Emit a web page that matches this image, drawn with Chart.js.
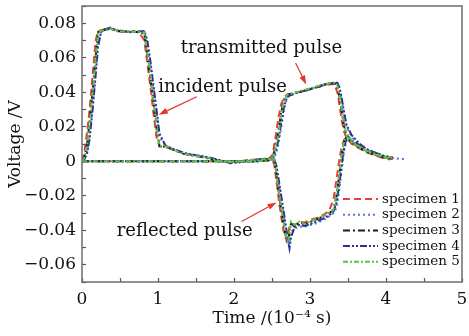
<!DOCTYPE html>
<html>
<head>
<meta charset="utf-8">
<script src="https://cdn.jsdelivr.net/npm/chart.js@4.4.1/dist/chart.umd.min.js"></script>
<style>
  body { margin: 0; background: #fff; }
</style>
</head>
<body>
<canvas id="pulseChart" width="469" height="336"></canvas>
<script>
// time axis (10^-4 s) for the incident/reflected gauge signal
var incTime = [
  0, 0.03, 0.07, 0.1, 0.14, 0.18, 0.21, 0.25, 0.3, 0.37,
  0.45, 0.55, 0.65, 0.75, 0.82, 0.86, 0.9, 0.94, 0.98, 1.02,
  1.1, 1.2, 1.33, 1.5, 1.65, 1.83, 1.95, 2.1, 2.25, 2.4,
  2.5, 2.53, 2.56, 2.6, 2.65, 2.69, 2.71, 2.73, 2.75, 2.8,
  2.86, 2.93, 3.0, 3.08, 3.16, 3.25, 3.31, 3.35, 3.39, 3.42,
  3.45, 3.48, 3.55, 3.65, 3.75, 3.85, 3.95, 4.05, 4.15, 4.25
];
var incS1 = [
  0, 0.005, 0.018, 0.03, 0.05, 0.07, 0.0755, 0.076, 0.0765, 0.0772,
  0.076, 0.0755, 0.0752, 0.0748, 0.07, 0.057, 0.043, 0.028, 0.014, 0.0085,
  0.0082, 0.007, 0.0045, 0.0032, 0.002, 0.0003, -0.0003, 0.0002, 0.0008, 0.0013,
  0.001, -0.002, -0.012, -0.026, -0.04, -0.046, -0.043, -0.038, -0.036, -0.037,
  -0.035, -0.0355, -0.034, -0.033, -0.0315, -0.029, -0.022, -0.01, 0.002, 0.009,
  0.0125, 0.0135, 0.01, 0.0075, 0.0052, 0.0035, 0.002, 0.001, null, null
];
var incS2 = [
  0, 0.001, 0.006, 0.015, 0.032, 0.052, 0.068, 0.075, 0.0762, 0.0768,
  0.0758, 0.0752, 0.0752, 0.0755, 0.0752, 0.068, 0.056, 0.042, 0.028, 0.014,
  0.0088, 0.007, 0.0048, 0.0033, 0.0022, 0.0002, -0.0008, -0.0002, 0.0006, 0.001,
  0.0016, 0.0014, -0.004, -0.016, -0.03, -0.042, -0.047, -0.048, -0.041, -0.039,
  -0.038, -0.038, -0.037, -0.036, -0.0345, -0.032, -0.03, -0.027, -0.015, -0.004,
  0.006, 0.012, 0.0115, 0.009, 0.0065, 0.0045, 0.003, 0.0022, 0.0016, 0.0012
];
var incS3 = [
  0, 0.002, 0.011, 0.023, 0.041, 0.061, 0.0748, 0.0755, 0.0762, 0.0768,
  0.0755, 0.075, 0.0752, 0.0748, 0.074, 0.061, 0.048, 0.034, 0.019, 0.0088,
  0.0084, 0.0067, 0.0044, 0.003, 0.0018, 0.0, -0.0006, 0.0, 0.0007, 0.0012,
  0.0014, 0.0008, -0.008, -0.022, -0.036, -0.045, -0.047, -0.041, -0.036, -0.038,
  -0.0355, -0.0365, -0.0352, -0.0338, -0.0322, -0.0302, -0.0282, -0.02, -0.006, 0.005,
  0.0115, 0.0142, 0.011, 0.0078, 0.0054, 0.0038, 0.0024, 0.0014, null, null
];
var incS4 = [
  0, 0.001, 0.005, 0.013, 0.03, 0.05, 0.066, 0.0748, 0.0765, 0.0775,
  0.076, 0.0752, 0.0748, 0.0752, 0.0755, 0.07, 0.058, 0.044, 0.03, 0.016,
  0.009, 0.0072, 0.005, 0.0035, 0.0025, 0.0005, -0.0012, -0.0005, 0.0006, 0.0014,
  0.0018, 0.0015, -0.003, -0.014, -0.028, -0.04, -0.046, -0.0505, -0.044, -0.038,
  -0.037, -0.0375, -0.0365, -0.035, -0.0335, -0.0315, -0.029, -0.024, -0.012, -0.001,
  0.008, 0.013, 0.012, 0.0095, 0.007, 0.005, 0.0035, 0.002, null, null
];
var incS5 = [
  0, 0.002, 0.01, 0.022, 0.04, 0.06, 0.075, 0.0755, 0.076, 0.077,
  0.0755, 0.0752, 0.075, 0.0752, 0.0745, 0.062, 0.05, 0.035, 0.02, 0.009,
  0.0085, 0.0068, 0.0045, 0.003, 0.002, 0.0, -0.0005, 0.0, 0.0008, 0.0012,
  0.0015, 0.001, -0.008, -0.021, -0.035, -0.044, -0.047, -0.042, -0.035, -0.037,
  -0.035, -0.0365, -0.035, -0.0335, -0.032, -0.03, -0.028, -0.019, -0.005, 0.006,
  0.012, 0.0145, 0.011, 0.008, 0.0055, 0.004, 0.0025, 0.0015, null, null
];

// time axis for the transmitted gauge signal
var trTime = [
  0, 0.5, 1, 1.5, 2, 2.3, 2.45, 2.51, 2.55, 2.58,
  2.62, 2.66, 2.7, 2.8, 2.9, 3.0, 3.1, 3.2, 3.27, 3.32,
  3.36, 3.39, 3.42, 3.45, 3.48, 3.55, 3.65, 3.75, 3.87, 3.97,
  4.09, 4.2
];
var trS1 = [
  0, 0, 0, 0, 0, 0, 0.0008, 0.004, 0.015, 0.024,
  0.033, 0.037, 0.0385, 0.0395, 0.0405, 0.0417, 0.043, 0.0442, 0.0447, 0.0448,
  0.04, 0.032, 0.023, 0.017, 0.0135, 0.0105, 0.0075, 0.005, 0.0032, 0.002,
  0.0012, null
];
var trS2 = [
  0, 0, 0, 0, 0, 0, 0.0003, 0.001, 0.004, 0.009,
  0.019, 0.03, 0.037, 0.0395, 0.0407, 0.042, 0.0433, 0.0447, 0.0453, 0.0455,
  0.0452, 0.042, 0.035, 0.027, 0.02, 0.014, 0.0095, 0.0065, 0.0045, 0.003,
  0.002, 0.0012
];
var trS3 = [
  0, 0, 0, 0, 0, 0, 0.0005, 0.002, 0.01, 0.016,
  0.028, 0.036, 0.0386, 0.0396, 0.0406, 0.0418, 0.043, 0.0443, 0.045, 0.0452,
  0.0435, 0.037, 0.028, 0.02, 0.0155, 0.0118, 0.0082, 0.0058, 0.0038, 0.0026,
  0.0018, null
];
var trS4 = [
  0, 0, 0, 0, 0, 0, 0.0004, 0.0015, 0.006, 0.011,
  0.022, 0.032, 0.0375, 0.0393, 0.0405, 0.0418, 0.0432, 0.0446, 0.0453, 0.0456,
  0.0455, 0.0425, 0.036, 0.028, 0.021, 0.015, 0.0102, 0.007, 0.0048, 0.0032,
  0.0022, null
];
var trS5 = [
  0, 0, 0, 0, 0, 0, 0.0005, 0.002, 0.009, 0.0145,
  0.027, 0.036, 0.0385, 0.0397, 0.041, 0.0422, 0.0435, 0.0448, 0.0452, 0.0453,
  0.044, 0.038, 0.029, 0.021, 0.016, 0.012, 0.0085, 0.006, 0.004, 0.0028,
  0.002, null
];

var specimenNames = ['specimen 1', 'specimen 2', 'specimen 3', 'specimen 4', 'specimen 5'];
var xTickLabels = ['0', '1', '2', '3', '4', '5'];

// callouts, in data units: text, x, y, and arrow from -> to
var noteTexts = ['transmitted pulse', 'incident pulse', 'reflected pulse'];
var notePos = [[2.36, 0.0655], [1.85, 0.0426], [1.35, -0.0406]];
var arrowPos = [[2.81, 0.057, 2.95, 0.0445], [1.51, 0.0374, 1.01, 0.027], [2.1, -0.0349, 2.56, -0.0239]];

var incSeries = [incS1, incS2, incS3, incS4, incS5];
var trSeries = [trS1, trS2, trS3, trS4, trS5];
var colors = ['#ee3b3b', '#5878e6', '#1a1a1a', '#2e3192', '#5cbf48'];
var dashes = [[7, 4], [2, 3], [7, 3, 2, 3], [7, 2, 2, 2, 2, 2], [5, 2, 2, 2]];

var FONT = "'DejaVu Serif', 'Liberation Serif', serif";
Chart.defaults.font.family = FONT;
Chart.defaults.color = '#111';

// one dataset per specimen: incident/reflected trace, a gap, then transmitted trace
var datasets = specimenNames.map(function (name, i) {
    var pts = incTime.map(function (t, k) { return { x: t, y: incSeries[i][k] }; });
    pts.push({ x: 0, y: null });
    trTime.forEach(function (t, k) { pts.push({ x: t, y: trSeries[i][k] }); });
    return {
        label: name,
        data: pts,
        borderColor: colors[i],
        borderDash: dashes[i],
        borderWidth: 2,
        pointRadius: 0,
        fill: false,
        tension: 0,
        spanGaps: false,
        order: 5 - i
    };
});

function arrow(ctx, x1, y1, x2, y2) {
    var a = Math.atan2(y2 - y1, x2 - x1);
    ctx.beginPath();
    ctx.moveTo(x1, y1);
    ctx.lineTo(x2 - 6 * Math.cos(a), y2 - 6 * Math.sin(a));
    ctx.stroke();
    ctx.beginPath();
    ctx.moveTo(x2, y2);
    ctx.lineTo(x2 - 9 * Math.cos(a) + 3 * Math.sin(a), y2 - 9 * Math.sin(a) - 3 * Math.cos(a));
    ctx.lineTo(x2 - 9 * Math.cos(a) - 3 * Math.sin(a), y2 - 9 * Math.sin(a) + 3 * Math.cos(a));
    ctx.closePath();
    ctx.fill();
}

var decorPlugin = {
    id: 'decor',
    afterDraw: function (chart) {
        var ctx = chart.ctx, area = chart.chartArea;
        var xs = chart.scales.x, ys = chart.scales.y;
        ctx.save();
        // frame
        ctx.strokeStyle = '#6e6e6e';
        ctx.lineWidth = 1.5;
        ctx.setLineDash([]);
        ctx.strokeRect(area.left, area.top, area.right - area.left, area.bottom - area.top);

        // callout texts and arrows
        ctx.fillStyle = '#111';
        ctx.font = '18px ' + FONT;
        ctx.textAlign = 'center';
        ctx.textBaseline = 'middle';
        noteTexts.forEach(function (txt, i) {
            ctx.fillText(txt, xs.getPixelForValue(notePos[i][0]), ys.getPixelForValue(notePos[i][1]));
        });
        ctx.strokeStyle = '#e8322c';
        ctx.fillStyle = '#e8322c';
        ctx.lineWidth = 1.2;
        arrowPos.forEach(function (p) {
            arrow(ctx, xs.getPixelForValue(p[0]), ys.getPixelForValue(p[1]),
                xs.getPixelForValue(p[2]), ys.getPixelForValue(p[3]));
        });

        // legend, lower right inside the plot
        ctx.font = '13.5px ' + FONT;
        ctx.textAlign = 'left';
        ctx.fillStyle = '#111';
        chart.data.datasets.forEach(function (ds, i) {
            var y = area.bottom - 83 + i * 15.7;
            ctx.strokeStyle = ds.borderColor;
            ctx.lineWidth = 2;
            ctx.setLineDash(ds.borderDash);
            ctx.beginPath();
            ctx.moveTo(area.right - 119, y);
            ctx.lineTo(area.right - 84, y);
            ctx.stroke();
            ctx.fillText(ds.label, area.right - 80, y);
        });
        ctx.restore();
    }
};

var ctx = document.getElementById('pulseChart').getContext('2d');
var pulseChart = new Chart(ctx, {
    type: 'line',
    data: { datasets: datasets },
    options: {
        responsive: false,
        animation: false,
        layout: { padding: { top: 6, right: 7, left: 0, bottom: 0 } },
        plugins: { legend: { display: false }, tooltip: { enabled: false } },
        scales: {
            x: {
                type: 'linear',
                min: 0,
                max: 5,
                border: { display: false },
                grid: { drawOnChartArea: false, tickLength: -4, tickColor: '#555', tickWidth: 1.2 },
                ticks: {
                    stepSize: 0.5,
                    autoSkip: false,
                    maxRotation: 0,
                    padding: 11,
                    font: { size: 17 },
                    callback: function (v) {
                        return Number.isInteger(v) ? xTickLabels[v] : '';
                    }
                },
                title: { display: true, text: 'Time /(10⁻⁴ s)', font: { size: 17 }, padding: { top: 0, bottom: 7 } },
                afterFit: function (scale) {
                    scale.height = 54;
                    scale.paddingLeft = 0;
                    scale.paddingRight = 0;
                }
            },
            y: {
                min: -0.07,
                max: 0.09,
                border: { display: false },
                grid: { drawOnChartArea: false, tickLength: -4, tickColor: '#555', tickWidth: 1.2 },
                ticks: {
                    stepSize: 0.01,
                    autoSkip: false,
                    padding: 10,
                    font: { size: 17 },
                    callback: function (v) {
                        var k = Math.round(v * 100);
                        if (k % 2 !== 0) return '';
                        if (k === 0) return '0';
                        return (k < 0 ? '\u2212' : '') + (Math.abs(k) / 100).toFixed(2);
                    }
                },
                title: { display: true, text: 'Voltage /V', font: { size: 17 }, padding: { top: 5, bottom: 0 } },
                afterFit: function (scale) {
                    scale.width = 82;
                    scale.paddingTop = 0;
                    scale.paddingBottom = 0;
                }
            }
        }
    },
    plugins: [decorPlugin]
});
</script>
</body>
</html>
